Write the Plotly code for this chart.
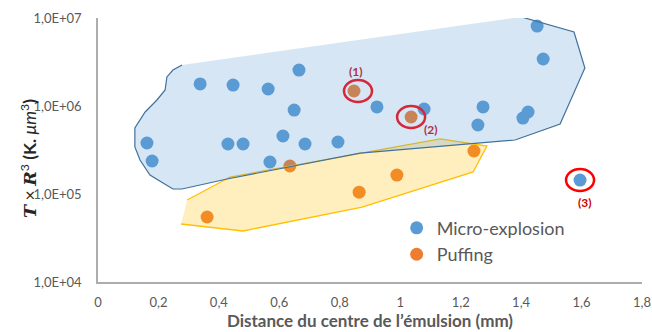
import math
import plotly.graph_objects as go

# droplet data: distance (mm) and T x R^3
micro_x = [0.162, 0.179, 0.338, 0.447, 0.563, 0.665, 0.649, 0.430, 0.480, 0.612, 0.685,
           0.569, 0.794, 0.923, 1.079, 1.274, 1.257, 1.423, 1.406, 1.453, 1.473, 1.595]
micro_y = [3.8e5, 2.37e5, 1.78e6, 1.73e6, 1.56e6, 2.56e6, 9.0e5, 3.7e5, 3.7e5, 4.56e5, 3.7e5,
           2.31e5, 3.9e5, 9.75e5, 9.25e5, 9.75e5, 6.08e5, 8.55e5, 7.3e5, 8.1e6, 3.42e6, 1.44e5]

puff_x = [0.361, 0.635, 0.847, 1.036, 0.864, 0.989, 1.244]
puff_y = [5.48e4, 2.08e5, 1.48e6, 7.5e5, 1.05e5, 1.64e5, 3.08e5]

# hand-drawn zones (data coordinates)
micro_zone_x = [0.278, 0.248, 0.228, 0.222, 0.195, 0.156, 0.122, 0.122, 0.139, 0.172,
                0.215, 0.248, 0.278, 0.427, 0.867, 1.380, 1.529, 1.611, 1.575, 1.400]
micro_zone_y = [2.92e6, 2.56e6, 2.14e6, 1.52e6, 1.17e6, 8.55e5, 5.62e5, 3.42e5, 2.43e5, 1.64e5,
                1.33e5, 1.14e5, 1.14e5, 1.48e5, 2.92e5, 4.11e5, 6.24e5, 2.70e6, 6.93e6, 1.03e7]
puff_zone_x = [0.295, 0.437, 1.132, 1.287, 1.241, 0.874, 0.480, 0.275]
puff_zone_y = [8.55e4, 1.56e5, 4.22e5, 3.51e5, 1.78e5, 7.11e4, 3.80e4, 4.56e4]

x_ticks = [0, 0.2, 0.4, 0.6, 0.8, 1.0, 1.2, 1.4, 1.6, 1.8]
x_labels = ['0', '0,2', '0,4', '0,6', '0,8', '1', '1,2', '1,4', '1,6', '1,8']
y_ticks = [1e4, 1e5, 1e6, 1e7]
y_labels = ['1,0E+04', '1,0E+05', '1,0E+06', '1,0E+07']
y_range = [4, 7]  # log10

# highlighted droplets: (series, index, label)
marked = [('puff', 2, '(1)'), ('puff', 3, '(2)'), ('micro', 21, '(3)')]

GREY = '#595959'
FONT = 'Lato, Carlito, Calibri, sans-serif'
Y_TITLE = ('<span style="font-family:DejaVu Serif"><b><i>T</i></b></span> × '
           '<span style="font-family:DejaVu Serif"><b><i>R</i></b></span>'
           '<sup>3</sup> <b>(K. </b><i>μm</i><sup>3</sup><b>)</b>')

fig = go.Figure()
fig.add_trace(go.Scatter(x=micro_x, y=micro_y, mode='markers', name='Micro-explosion',
                         marker=dict(color='#5B9BD5', size=13)))
fig.add_trace(go.Scatter(x=puff_x, y=puff_y, mode='markers', name='Puffing',
                         marker=dict(color='#ED7D31', size=13)))
fig.add_trace(go.Scatter(x=puff_zone_x, y=puff_zone_y, mode='lines', fill='toself',
                         fillcolor='rgba(255,192,0,0.25)', line=dict(color='#FFC000', width=1.3),
                         showlegend=False, hoverinfo='skip'))
fig.add_trace(go.Scatter(x=micro_zone_x, y=micro_zone_y, mode='lines', fill='toself',
                         fillcolor='rgba(91,155,213,0.25)', line=dict(color='#41719C', width=1.2),
                         showlegend=False, hoverinfo='skip'))

label_offsets = {'(1)': (2, 20), '(2)': (20, -13), '(3)': (5, -22)}
for series, i, label in marked:
    px = puff_x[i] if series == 'puff' else micro_x[i]
    py = puff_y[i] if series == 'puff' else micro_y[i]
    dx = 4 if label == '(1)' else 0
    ring = '#D6273A' if label != '(3)' else '#FF0000'
    text_col = '#B0304A' if label != '(3)' else '#D00000'
    # paper-y anchor (pixel-sized shapes misbehave on log axes)
    yfrac = (math.log10(py) - y_range[0]) / (y_range[1] - y_range[0])
    fig.add_shape(type='circle', xref='x', yref='paper', xsizemode='pixel', ysizemode='pixel',
                  xanchor=px, yanchor=yfrac, x0=-14 + dx, x1=14 + dx, y0=-11, y1=11,
                  line=dict(color=ring, width=2.5), layer='above')
    ox, oy = label_offsets[label]
    fig.add_annotation(x=px, y=math.log10(py), text='<b>' + label + '</b>', showarrow=False,
                       xshift=ox, yshift=oy, font=dict(family=FONT, size=12, color=text_col))

# y title as a rotated annotation so it can sit closer to the tick labels
fig.add_annotation(xref='paper', yref='paper', x=0, y=0.466, xshift=-69, textangle=-90,
                   xanchor='center', yanchor='middle', showarrow=False, text=Y_TITLE,
                   font=dict(family=FONT, size=17.5, color='#262626'))

fig.update_layout(
    width=652, height=332,
    margin=dict(l=98, r=10, t=18, b=50),
    paper_bgcolor='white', plot_bgcolor='white',
    font=dict(family=FONT, color=GREY, size=13),
    legend=dict(x=0.549, y=0.274, xanchor='left', yanchor='top', itemwidth=30,
                font=dict(family=FONT, size=18, color=GREY), bgcolor='rgba(0,0,0,0)'),
)
fig.update_xaxes(range=[0, 1.8], tickvals=x_ticks, ticktext=x_labels, showgrid=False,
                 zeroline=False, showline=True, linecolor='#ADADAD', linewidth=1.5,
                 ticks='', ticklabelstandoff=8, tickfont=dict(size=13, color=GREY),
                 automargin=False, ticklabeloverflow='allow',
                 title=dict(text='<b>Distance du centre de l’émulsion (mm)</b>', standoff=6,
                            font=dict(size=17, color=GREY)))
fig.update_yaxes(type='log', range=y_range, tickvals=y_ticks, ticktext=y_labels, showgrid=False,
                 zeroline=False, showline=True, linecolor='#ADADAD', linewidth=1.5,
                 ticks='', ticklabelstandoff=12, tickfont=dict(size=13, color=GREY),
                 automargin=False)

# drop the default page margin so the figure fills the window exactly
fig.write_html('out.html', config={'displayModeBar': False},
               post_script="document.body.style.margin='0';"
                           "document.body.style.overflow='hidden';")
